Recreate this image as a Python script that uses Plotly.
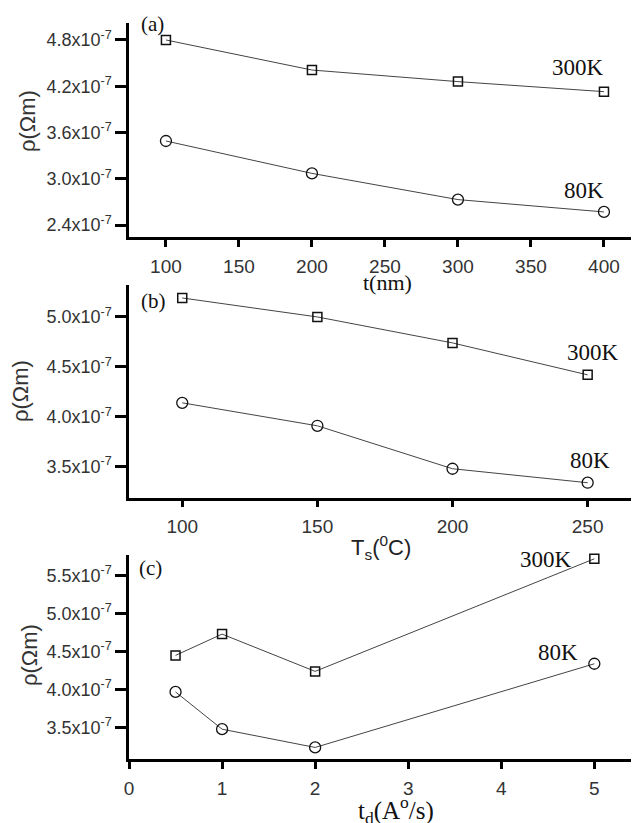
import plotly.graph_objects as go

# ---- data ----
t_nm = [100, 200, 300, 400]
rho_a_300K = [4.80e-7, 4.41e-7, 4.26e-7, 4.13e-7]
rho_a_80K = [3.49e-7, 3.07e-7, 2.73e-7, 2.57e-7]

Ts_C = [100, 150, 200, 250]
rho_b_300K = [5.19e-7, 5.00e-7, 4.74e-7, 4.42e-7]
rho_b_80K = [4.14e-7, 3.91e-7, 3.48e-7, 3.34e-7]

td_rate = [0.5, 1, 2, 5]
rho_c_300K = [4.45e-7, 4.73e-7, 4.24e-7, 5.72e-7]
rho_c_80K = [3.97e-7, 3.48e-7, 3.24e-7, 4.34e-7]

yticks_a = [2.4, 3.0, 3.6, 4.2, 4.8]
yticks_b = [3.5, 4.0, 4.5, 5.0]
yticks_c = [3.5, 4.0, 4.5, 5.0, 5.5]
xticks_a = [100, 150, 200, 250, 300, 350, 400]
xticks_b = [100, 150, 200, 250]
xticks_c = [0, 1, 2, 3, 4, 5]

SANS = "Liberation Sans, Arial, sans-serif"
SERIF = "Liberation Serif, Times New Roman, serif"
# page has an 8px body margin: the figure starts at (8, 8) of the window
OFF = 8
W, H = 639 - OFF, 823 - OFF

def py(p):
    return 1 - (p - OFF) / H

def px(p):
    return (p - OFF) / W

fig = go.Figure()

def add_pair(x, y300, y80, n):
    xa = "x" if n == 1 else f"x{n}"
    ya = "y" if n == 1 else f"y{n}"
    common = dict(mode="lines+markers", line=dict(color="#444", width=1),
                  xaxis=xa, yaxis=ya, showlegend=False, cliponaxis=False)
    fig.add_trace(go.Scatter(x=x, y=y300, name="300K",
                             marker=dict(symbol="square-open", size=9,
                                         color="#111", line=dict(width=1.5, color="#111")),
                             **common))
    fig.add_trace(go.Scatter(x=x, y=y80, name="80K",
                             marker=dict(symbol="circle-open", size=11,
                                         color="#111", line=dict(width=1.3, color="#111")),
                             **common))

add_pair(t_nm, rho_a_300K, rho_a_80K, 1)
add_pair(Ts_C, rho_b_300K, rho_b_80K, 2)
add_pair(td_rate, rho_c_300K, rho_c_80K, 3)

def ytext(vals):
    return [f"{v:.1f}x10<sup>-7</sup>" for v in vals]

axis_common = dict(showline=True, linecolor="black", linewidth=2.5,
                   ticks="outside", tickcolor="black", tickwidth=2.5,
                   showgrid=False, zeroline=False, automargin=False)
xfont = dict(family=SANS, size=19, color="#333")
yfont = dict(family=SANS, size=18, color="#333")

xdom = [px(129), 1.0]
layout = dict(
    width=W, height=H, margin=dict(l=0, r=0, t=0, b=0, pad=0),
    plot_bgcolor="white", paper_bgcolor="white",
    xaxis=dict(domain=xdom, anchor="y", range=[74.7, 424], tickvals=xticks_a,
               ticklen=7, ticklabelstandoff=3, tickfont=xfont, **axis_common),
    yaxis=dict(domain=[py(237), py(23)], anchor="x", range=[2.245e-7, 5.02e-7],
               tickvals=[v * 1e-7 for v in yticks_a], ticktext=ytext(yticks_a),
               ticklen=11, tickfont=yfont, **axis_common),
    xaxis2=dict(domain=xdom, anchor="y2", range=[80.3, 269], tickvals=xticks_b,
                ticklen=7, ticklabelstandoff=3, tickfont=xfont, **axis_common),
    yaxis2=dict(domain=[py(497.7), py(285)], anchor="x2", range=[3.19e-7, 5.32e-7],
                tickvals=[v * 1e-7 for v in yticks_b], ticktext=ytext(yticks_b),
                ticklen=11, tickfont=yfont, **axis_common),
    xaxis3=dict(domain=xdom, anchor="y3", range=[0, 5.48], tickvals=xticks_c,
                ticklen=7, ticklabelstandoff=3, tickfont=xfont, **axis_common),
    yaxis3=dict(domain=[py(759), py(555)], anchor="x3", range=[3.088e-7, 5.77e-7],
                tickvals=[v * 1e-7 for v in yticks_c], ticktext=ytext(yticks_c),
                ticklen=11, tickfont=yfont, **axis_common),
)
fig.update_layout(**layout)

def note(text, x, y, family, size, angle=0, color="#111"):
    fig.add_annotation(text=text, x=px(x), y=py(y), xref="paper", yref="paper",
                       showarrow=False, xanchor="center", yanchor="middle",
                       textangle=angle, font=dict(family=family, size=size, color=color))

# panel labels
note("(a)", 152, 24, SERIF, 21)
note("(b)", 153, 301, SERIF, 21)
note("(c)", 150, 568, SERIF, 21)
# series labels
note("300K", 578, 67, SERIF, 23)
note("80K", 584, 190, SERIF, 23)
note("300K", 593, 352, SERIF, 23)
note("80K", 590, 460, SERIF, 23)
note("300K", 546, 559, SERIF, 23)
note("80K", 558, 652, SERIF, 23)
# axis titles
note("t(nm)", 387, 282, SERIF, 22)
note("T<sub>s</sub>(<sup>0</sup>C)", 381, 547, SANS, 22, color="#222")
note("t<sub>d</sub>(A<sup>o</sup>/s)", 396, 810, SERIF, 25)
note("ρ(Ωm)", 28, 121, SANS, 22, angle=-90, color="#333")
note("ρ(Ωm)", 21, 391, SANS, 22, angle=-90, color="#333")
note("ρ(Ωm)", 29, 655, SANS, 22, angle=-90, color="#333")

fig.write_html("out.html")
